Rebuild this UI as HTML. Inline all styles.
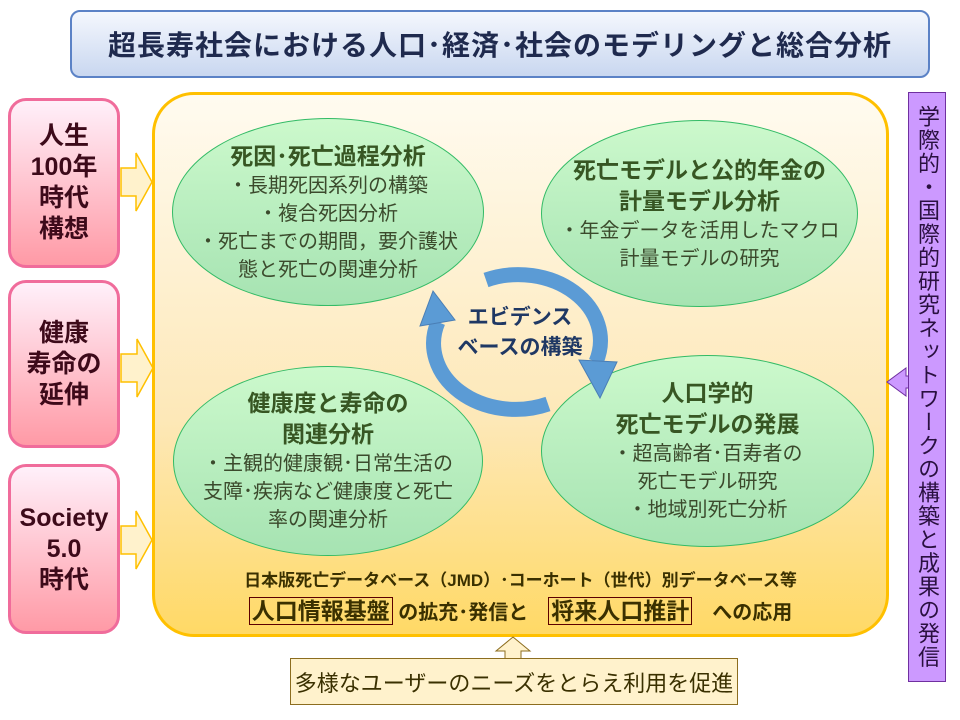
<!DOCTYPE html>
<html><head><meta charset="utf-8"><style>
body{margin:0;width:960px;height:720px;background:#fff;position:relative;overflow:hidden;font-family:"Liberation Sans","Noto Sans CJK JP",sans-serif;}
.a{position:absolute;box-sizing:border-box;}
.title{left:70px;top:10px;width:860px;height:68px;border:2px solid #5b82c6;border-radius:10px;background:linear-gradient(#f4f7fd,#c9d7f0);display:flex;align-items:center;justify-content:center;font-size:28px;font-weight:bold;color:#1f2a4e;letter-spacing:1px;}
.lb{left:8px;width:112px;border:3px solid #f06c9b;border-radius:18px;background:linear-gradient(#fff0fa,#ff9aa6);display:flex;align-items:center;justify-content:center;text-align:center;font-size:25px;font-weight:bold;color:#3d0a1a;line-height:31px;}
.main{left:152px;top:92px;width:737px;height:545px;border:3px solid #ffc000;border-radius:42px;background:linear-gradient(#fffbf0,#fde8b8 60%,#ffd966);}
.el{border:1.5px solid #33bb66;border-radius:50%;background:linear-gradient(#ccf9cc,#a6e3b2);display:flex;flex-direction:column;align-items:center;justify-content:center;text-align:center;color:#3b4a2c;font-size:20px;line-height:28px;}
.el b{color:#375623;font-size:23px;line-height:31px;}
.purple{left:908px;top:92px;width:38px;height:590px;background:#cc99ff;border:1px solid #7030a0;writing-mode:vertical-rl;font-size:22px;color:#2a1040;display:flex;align-items:center;justify-content:center;letter-spacing:1.5px;line-height:36px;}
.bot{left:290px;top:658px;width:448px;height:47px;background:#fff2cc;border:1.5px solid #8c6d1f;display:flex;align-items:center;justify-content:center;font-size:22px;color:#3a3000;}
.hl{border:1px solid #5c0000;padding:0 2px;font-size:23px;}
</style></head><body>
<div class="a title">超長寿社会における人口･経済･社会のモデリングと総合分析</div>
<div class="a lb" style="top:98px;height:170px;">人生<br>100年<br>時代<br>構想</div>
<div class="a lb" style="top:280px;height:168px;">健康<br>寿命の<br>延伸</div>
<div class="a lb" style="top:464px;height:170px;">Society<br>5.0<br>時代</div>
<svg class="a" style="left:0;top:0" width="960" height="720">
<g fill="#fff2cc" stroke="#ffc000" stroke-width="1.5">
<polygon points="121,168 136,168 136,153 152,182 136,211 136,196 121,196"/>
<polygon points="121,354 137,354 137,339 153,368 137,397 137,382 121,382"/>
<polygon points="121,526 136,526 136,511 152,540 136,569 136,554 121,554"/>
</g>
</svg>
<div class="a main"></div>
<div class="a el" style="left:172px;top:118px;width:312px;height:188px;"><b>死因･死亡過程分析</b>・長期死因系列の構築<br>・複合死因分析<br>・死亡までの期間，要介護状<br>態と死亡の関連分析</div>
<div class="a el" style="left:541px;top:120px;width:317px;height:187px;"><b>死亡モデルと公的年金の<br>計量モデル分析</b>・年金データを活用したマクロ<br>計量モデルの研究</div>
<div class="a el" style="left:173px;top:366px;width:310px;height:190px;"><b>健康度と寿命の<br>関連分析</b>・主観的健康観･日常生活の<br>支障･疾病など健康度と死亡<br>率の関連分析</div>
<div class="a el" style="left:541px;top:355px;width:333px;height:192px;"><b>人口学的<br>死亡モデルの発展</b>・超高齢者･百寿者の<br>死亡モデル研究<br>・地域別死亡分析</div>
<svg class="a" style="left:0;top:0" width="960" height="720">
<g fill="none" stroke="#5b9bd5" stroke-width="15">
<path d="M548,404 A82,66 0 0 1 438,322"/>
<path d="M486,280 A82,66 0 0 1 596,362"/>
</g>
<g fill="#5b9bd5" stroke="#4a7eb5" stroke-width="1">
<polygon points="433,291 420,326 455,320"/>
<polygon points="600,398 579,360 617,362"/>
</g>
<polygon points="887,382 906,368 906,376 916,376 916,388 906,388 906,396" fill="#cc99ff" stroke="#7030a0"/>
<polygon points="513,637 530,651 521,651 521,659 505,659 505,651 496,651" fill="#fff2cc" stroke="#8c6d1f"/>
</svg>
<div class="a" style="left:445px;top:303px;width:150px;text-align:center;font-size:21px;font-weight:bold;color:#1f3864;line-height:30px;">エビデンス<br>ベースの構築</div>
<div class="a" style="left:152px;top:566px;width:737px;text-align:center;font-size:17px;font-weight:bold;color:#3a3000;">日本版死亡データベース（JMD）･コーホート（世代）別データベース等</div>
<div class="a" style="left:152px;top:592px;width:737px;text-align:center;font-size:20px;font-weight:bold;color:#3a3000;"><span class="hl">人口情報基盤</span> の拡充･発信と　<span class="hl">将来人口推計</span>　への応用</div>
<div class="a purple">学際的・国際的研究ネットワークの構築と成果の発信</div>
<div class="a bot">多様なユーザーのニーズをとらえ利用を促進</div>
</body></html>
